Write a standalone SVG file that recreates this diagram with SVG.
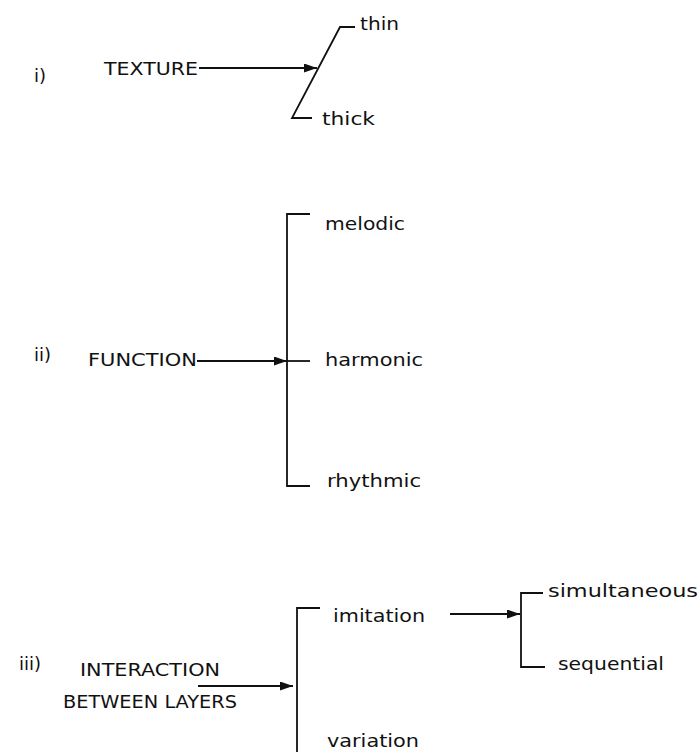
<svg xmlns="http://www.w3.org/2000/svg" width="700" height="752" viewBox="0 0 700 752">
<style>
text{font-family:"DejaVu Sans","Liberation Sans",sans-serif;font-size:18.5px;fill:#111}
.n{font-size:18px}
.l{stroke:#111;stroke-width:1.8;fill:none}
</style>
<defs>
<marker id="ah" viewBox="0 0 13 9" refX="13" refY="4.5" markerWidth="13" markerHeight="9" markerUnits="userSpaceOnUse" orient="auto"><path d="M0,0 L13,4.5 L0,9 Z" fill="#111"/></marker>
</defs>
<rect width="700" height="752" fill="#fff"/>
<g id="labels">
<text class="n" x="34" y="82">i)</text>
<text class="n" x="34" y="361">ii)</text>
<text class="n" x="19" y="670">iii)</text>
</g>
<g id="texture"><text x="104" y="75" textLength="94" lengthAdjust="spacingAndGlyphs">TEXTURE</text></g>
<g id="thin"><text x="360" y="30" textLength="39" lengthAdjust="spacingAndGlyphs">thin</text></g>
<g id="thick"><text x="322" y="125" textLength="53" lengthAdjust="spacingAndGlyphs">thick</text></g>
<g id="function"><text x="88" y="366" textLength="109" lengthAdjust="spacingAndGlyphs">FUNCTION</text></g>
<g id="melodic"><text x="325" y="230" textLength="80" lengthAdjust="spacingAndGlyphs">melodic</text></g>
<g id="harmonic"><text x="325" y="366" textLength="98" lengthAdjust="spacingAndGlyphs">harmonic</text></g>
<g id="rhythmic"><text x="327" y="487" textLength="94" lengthAdjust="spacingAndGlyphs">rhythmic</text></g>
<g id="interaction">
<text x="80" y="676" textLength="140" lengthAdjust="spacingAndGlyphs">INTERACTION</text>
<text x="63" y="708" textLength="174" lengthAdjust="spacingAndGlyphs">BETWEEN LAYERS</text>
</g>
<g id="imitation"><text x="333" y="622" textLength="92" lengthAdjust="spacingAndGlyphs">imitation</text></g>
<g id="variation"><text x="327" y="747" textLength="92" lengthAdjust="spacingAndGlyphs">variation</text></g>
<g id="simultaneous"><text x="548" y="597" textLength="150" lengthAdjust="spacingAndGlyphs">simultaneous</text></g>
<g id="sequential"><text x="558" y="670" textLength="106" lengthAdjust="spacingAndGlyphs">sequential</text></g>
<g id="connectors">
<line class="l" x1="199" y1="68" x2="317" y2="68" marker-end="url(#ah)"/>
<polyline class="l" points="355,27 340,27 292,118 312,118"/>
<line class="l" x1="197" y1="361" x2="287" y2="361" marker-end="url(#ah)"/>
<polyline class="l" points="310,214 287,214 287,486 310,486"/>
<line class="l" x1="287" y1="361" x2="310" y2="361"/>
<line class="l" x1="198" y1="686" x2="293" y2="686" marker-end="url(#ah)"/>
<polyline class="l" points="320,608 297,608 297,752"/>
<line class="l" x1="450" y1="614" x2="520" y2="614" marker-end="url(#ah)"/>
<polyline class="l" points="543,593 521,593 521,667 545,667"/>
</g>
</svg>
